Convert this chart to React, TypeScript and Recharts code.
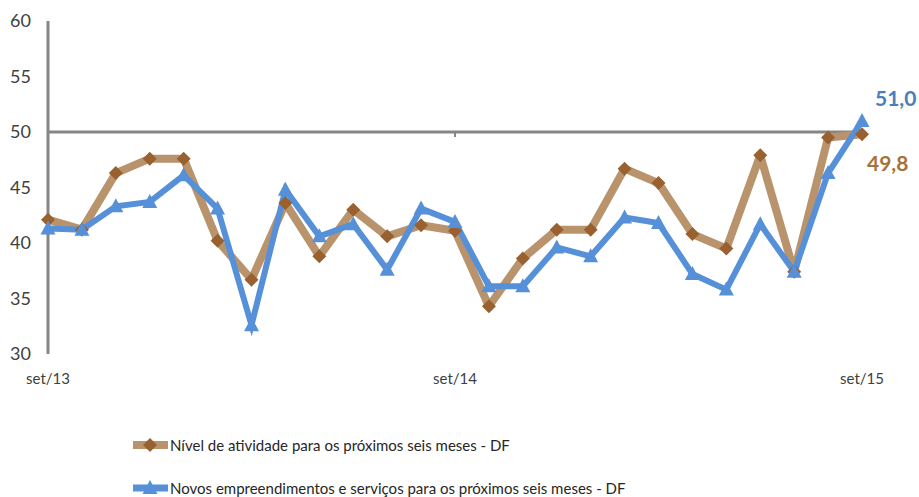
import React from "react";
import { LineChart, Line, XAxis, YAxis, ReferenceLine, Legend } from "recharts";

const months = [
  "set/13", "out/13", "nov/13", "dez/13", "jan/14", "fev/14", "mar/14", "abr/14", "mai/14", "jun/14", "jul/14", "ago/14",
  "set/14", "out/14", "nov/14", "dez/14", "jan/15", "fev/15", "mar/15", "abr/15", "mai/15", "jun/15", "jul/15", "ago/15",
  "set/15",
];
const nivel = [42.1, 41.2, 46.3, 47.6, 47.6, 40.2, 36.7, 43.6, 38.8, 43.0, 40.6, 41.6, 41.1, 34.3, 38.6, 41.2, 41.2, 46.7, 45.4, 40.8, 39.5, 47.9, 37.4, 49.5, 49.8];
const novos = [41.3, 41.2, 43.3, 43.7, 46.1, 43.1, 32.6, 44.8, 40.6, 41.7, 37.6, 43.1, 41.9, 36.1, 36.1, 39.6, 38.8, 42.3, 41.8, 37.2, 35.8, 41.7, 37.4, 46.3, 51.0];
const yTicks = [30, 35, 40, 45, 50, 55, 60];

const nivelName = "Nível de atividade para os próximos seis meses - DF";
const novosName = "Novos empreendimentos e serviços para os próximos seis meses - DF";

const data = months.map((m, i) => ({ month: m, nivel: nivel[i], novos: novos[i] }));

const BROWN_LINE = "#b9936c";
const BROWN_DOT = "#9a6130";
const BLUE = "#5590d8";
const AXIS = "#868686";
const FONT = "Lato, 'Open Sans', sans-serif";

const fmt = (v: number) => v.toFixed(1).replace(".", ",");

function Diamond({ cx, cy, fill }: any) {
  const r = 7;
  return <polygon points={`${cx},${cy - r} ${cx + r},${cy} ${cx},${cy + r} ${cx - r},${cy}`} fill={fill} />;
}

function Triangle({ cx, cy, fill }: any) {
  return <polygon points={`${cx},${cy - 8} ${cx + 7.5},${cy + 6} ${cx - 7.5},${cy + 6}`} fill={fill} />;
}

function lastLabel(color: string, dx: number, dy: number) {
  return (props: any) => {
    const { x, y, value, index } = props;
    if (index !== data.length - 1) return null;
    return (
      <text x={x + dx} y={y + dy} fill={color} fontFamily={FONT} fontWeight={700} fontSize={21} dominantBaseline="central">
        {fmt(value)}
      </text>
    );
  };
}

function LegendBox() {
  const rows = [
    { name: nivelName, color: BROWN_LINE, mark: <Diamond cx={17} cy={10} fill={BROWN_DOT} /> },
    { name: novosName, color: BLUE, mark: <Triangle cx={17} cy={10} fill={BLUE} /> },
  ];
  return (
    <div style={{ width: 919, height: 100, position: "relative", fontFamily: FONT }}>
      {rows.map((r, i) => (
        <div key={r.name} style={{ position: "absolute", left: 133, top: 38 + i * 43, height: 20, display: "flex", alignItems: "center" }}>
          <svg width={36} height={20} style={{ display: "block" }}>
            <line x1={0} y1={10} x2={35} y2={10} stroke={r.color} strokeWidth={i === 0 ? 8 : 7} />
            {r.mark}
          </svg>
          <span style={{ marginLeft: 1, fontSize: 15, lineHeight: "20px", color: "#262626", whiteSpace: "nowrap" }}>{r.name}</span>
        </div>
      ))}
    </div>
  );
}

export default function App() {
  return (
    <div style={{ position: "absolute", left: 0, top: 0, background: "#fff" }}>
      <LineChart width={919} height={497} data={data} margin={{ top: 21, right: 57, left: 0, bottom: 0 }}>
        <XAxis
          dataKey="month"
          interval={11}
          axisLine={false}
          tickLine={false}
          tickMargin={13}
          height={43}
          tick={{ fontSize: 15, fill: "#404040", fontFamily: FONT }}
        />
        <YAxis
          domain={[30, 60]}
          ticks={yTicks}
          width={48}
          tickLine={false}
          tickMargin={11}
          axisLine={{ stroke: AXIS, strokeWidth: 3 }}
          tick={{ fontSize: 18, fill: "#404040", fontFamily: FONT }}
        />
        <ReferenceLine y={50} stroke={AXIS} strokeWidth={3} />
        <ReferenceLine segment={[{ x: "set/14", y: 50 }, { x: "set/14", y: 49.55 }]} stroke={AXIS} strokeWidth={2} />
        <Legend verticalAlign="bottom" content={() => <LegendBox />} />
        <Line
          dataKey="nivel"
          name={nivelName}
          stroke={BROWN_LINE}
          strokeWidth={8}
          strokeLinejoin="round"
          dot={(p: any) => <Diamond key={`d${p.index}`} cx={p.cx} cy={p.cy} fill={BROWN_DOT} />}
          activeDot={false}
          label={lastLabel("#a8703a", 5, 28)}
          isAnimationActive={false}
        />
        <Line
          dataKey="novos"
          name={novosName}
          stroke={BLUE}
          strokeWidth={6}
          strokeLinejoin="miter"
          dot={(p: any) => <Triangle key={`t${p.index}`} cx={p.cx} cy={p.cy} fill={BLUE} />}
          activeDot={false}
          label={lastLabel("#4a7ebb", 13, -23)}
          isAnimationActive={false}
        />
      </LineChart>
    </div>
  );
}
